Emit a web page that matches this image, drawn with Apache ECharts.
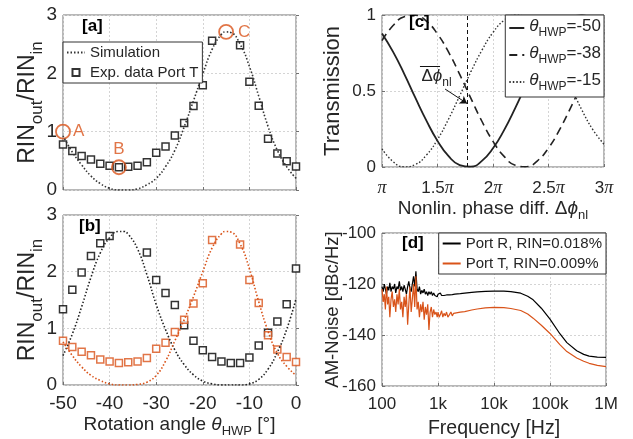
<!DOCTYPE html>
<html><head><meta charset="utf-8">
<script src="https://cdn.jsdelivr.net/npm/echarts@6/dist/echarts.min.js"></script>
<style>html,body{margin:0;padding:0;background:#fff}#c{width:633px;height:439px}</style>
</head><body><div id="c"></div>
<script>
// ---------- data ----------
const expAngles = [-50,-48,-46,-44,-42,-40,-38,-36,-34,-32,-30,-28,-26,-24,-22,-20,-18,-16,-14,-12,-10,-8,-6,-4,-2,0];
const portT = [0.78,0.67,0.585,0.525,0.45,0.415,0.39,0.40,0.415,0.475,0.64,0.745,0.935,1.15,1.44,1.795,2.56,null,null,2.48,1.855,1.445,0.88,0.625,0.495,0.405];
const portR = [1.335,1.68,1.985,2.275,2.5,2.63,null,null,null,2.34,1.855,1.625,1.41,1.055,0.78,0.615,0.495,0.415,0.39,0.39,0.485,0.695,0.92,1.12,1.425,2.055];

const simAnglesT = [-50,-48,-46,-44,-42,-40,-38,-36,-34,-32,-30,-28,-26,-24,-22,-20,-18,-16,-15,-14,-12,-10,-8,-6,-4,-2,0];
const simA = [0.93,0.65,0.43,0.24,0.11,0.03,0.0,0.0,0.02,0.09,0.2,0.4,0.68,1.08,1.53,1.99,2.41,2.67,2.71,2.70,2.5,2.12,1.61,1.09,0.68,0.4,0.2];
const simBT = [0.76,0.52,0.32,0.17,0.08,0.02,0.0,0.0,0.01,0.05,0.17,0.42,0.78,1.15,1.56,2.0,2.42,2.67,2.71,2.70,2.49,2.05,1.47,0.95,0.56,0.33,0.17];
const simAnglesR = [-50,-48,-46,-44,-42,-40,-38,-37,-36,-34,-32,-30,-28,-26,-24,-22,-20,-18,-16,-14,-12,-10,-8,-6,-4,-2,0];
const simBR = [0.52,0.9,1.38,1.9,2.33,2.6,2.71,2.71,2.66,2.4,1.95,1.42,0.98,0.62,0.36,0.18,0.07,0.02,0.0,0.0,0.0,0.02,0.1,0.28,0.58,0.98,1.52];

const markerNames = ['A','B','C'];
const markerAngles = [-50,-38,-15];
const markerValues = [1.0,0.39,2.71];

const phaseX = [1.0,1.1,1.2,1.3,1.4,1.5,1.6,1.7,1.8,1.9,2.0,2.1,2.2,2.3,2.4,2.5,2.6,2.7,2.8,2.9,3.0];
const trans50 = [0.878,0.757,0.613,0.456,0.305,0.172,0.071,0.013,0.002,0.040,0.123,0.243,0.388,0.544,0.695,0.828,0.929,0.987,0.998,0.960,0.878];
const trans38 = [0.831,0.931,0.988,0.998,0.959,0.875,0.755,0.609,0.453,0.301,0.169,0.070,0.012,0.002,0.041,0.125,0.246,0.391,0.547,0.698,0.831];
const trans15 = [0.12,0.035,0.001,0.016,0.078,0.181,0.316,0.469,0.625,0.768,0.885,0.965,0.999,0.984,0.922,0.819,0.684,0.532,0.376,0.245,0.15];
const hwpLabels = ['-50','-38','-15'];
const phiBar = 1.772;
const piTickValues = [1,1.5,2,2.5,3];
const piTickLabels = ['','1.5','2','2.5','3'];

const freqHz = [100,105,110,115,120,126,132,138,145,152,160,168,176,185,194,204,214,225,236,248,260,273,287,301,316,332,348,366,384,403,423,444,466,490,514,540,567,595,625,656,689,723,759,797,837,879,923,969,1000,1050,1100,1160,1220,1280,1350,1420,1500,1600,1700,1800,1900,2000,2500,3000,4000,5000,7000,10000,15000,20000,30000,40000,50000,70000,100000,150000,200000,300000,400000,500000,700000,1000000];
const noiseR = [-121,-123,-120,-122,-124, -121,-122.5,-119.5,-123,-121, -122,-120,-123.5,-121,-122, -119,-122.5,-121,-123,-120.5, -122,-124,-121,-119,-122, -123,-120,-117,-121,-115, -122,-123,-121,-124,-122.5, -123.5,-122,-124,-123,-124.5, -123,-124,-123,-124.5,-123.5, -124.5,-124,-125,-124, -124.5,-123.5,-124.5,-124,-124.5, -124,-124.3,-123.8,-124.3,-124, -124.2,-124,-124, -123.8,-123.6,-123.3,-123.1,-122.9, -122.8,-122.8,-123,-123.6,-124.8, -126.2,-129.5,-133.8,-139.5,-143, -146.2,-147.6,-148.3,-148.7,-148.8];
const noiseT = [-122,-127,-124,-130,-121, -128,-125,-133,-126,-123, -129,-126,-131,-124,-128, -122,-130,-127,-133,-125, -129,-124,-136,-128,-121, -131,-126,-120,-129,-117, -130,-127,-133,-128,-131, -127,-134,-129,-132,-128, -138,-131,-129,-133,-130, -132,-131,-133,-131, -133,-132,-130.5,-133,-131.5, -132.5,-131,-133,-132,-131, -132.5,-131.5,-131.8, -131,-130.8,-130.2,-129.8,-129.4, -129.2,-129.3,-129.6,-130.4,-131.8, -133.4,-136.2,-139.4,-143.8,-146.5, -149,-150.3,-151.1,-151.9,-152.4];
const freqTickValues = [100,1000,10000,100000,1000000];
const freqTickLabels = ['100','1k','10k','100k','1M'];

// ---------- style ----------
const ORANGE = '#D95319';
const TXT = '#262626';
const AXC = '#707070';
const FONT = 'Liberation Sans';

function rich(S, s) {
  return {
    m: {fontSize:S, lineHeight:S+3, verticalAlign:'top', color:TXT, fontFamily:FONT},
    g: {fontSize:S, lineHeight:S+3, verticalAlign:'top', color:TXT, fontFamily:FONT, fontStyle:'italic'},
    s: {fontSize:s, lineHeight:s+1, padding:[Math.round(S*0.55),0,0,0], verticalAlign:'top', color:TXT, fontFamily:FONT}
  };
}
const pairs = (xs, ys) => xs.map((x,i)=>[x, ys[i]]).filter(p => p[1] !== null);

function ax(o) {
  return Object.assign({
    axisLine:{show:false},
    axisTick:{show:true, inside:true, length:3, lineStyle:{color:AXC}},
    splitLine:{show:true, lineStyle:{color:'#d4d4d4', type:[2,2], width:1}},
    nameMoveOverlap:false,
    nameLocation:'middle'
  }, o);
}

const sqIcon = 'path://M0,0L10,0L10,10L0,10Z';
const sqStyle = c => ({color:'#fff', borderColor:c, borderWidth:1.5});
const noSym = {color:'rgba(0,0,0,0)', borderColor:'rgba(0,0,0,0)', borderWidth:0, opacity:0};
const lineItem = n => ({name:n, itemStyle:noSym});

const option = {
  backgroundColor:'#fff',
  animation:false,
  textStyle:{fontFamily:FONT, color:TXT},
  title:[
    {text:'[a]', left:82, top:18, padding:0, textStyle:{fontSize:17, fontWeight:'bold', color:'#000'}},
    {text:'[b]', left:79, top:218, padding:0, textStyle:{fontSize:17, fontWeight:'bold', color:'#000'}},
    {text:'[c]', left:409, top:14, padding:0, textStyle:{fontSize:17, fontWeight:'bold', color:'#000'}},
    {text:'[d]', left:402, top:235, padding:0, textStyle:{fontSize:17, fontWeight:'bold', color:'#000'}}
  ],
  grid:[
    {left:63, top:15, width:233, height:175, show:true, borderColor:AXC, borderWidth:1, backgroundColor:'#fff', outerBoundsMode:'none'},
    {left:63, top:215, width:233, height:170, show:true, borderColor:AXC, borderWidth:1, backgroundColor:'#fff', outerBoundsMode:'none'},
    {left:382, top:15, width:222, height:152, show:true, borderColor:AXC, borderWidth:1, backgroundColor:'#fff', outerBoundsMode:'none'},
    {left:382, top:233, width:224, height:153, show:true, borderColor:AXC, borderWidth:1, backgroundColor:'#fff', outerBoundsMode:'none'}
  ],
  legend:[
    {left:63, top:42, orient:'vertical', backgroundColor:'#fff', borderColor:'#333', borderWidth:1, borderRadius:0,
     padding:[2,4,2,3], itemGap:3, itemWidth:18, itemHeight:7, selectedMode:false,
     textStyle:{fontSize:15, lineHeight:17, color:TXT},
     data:[lineItem('Simulation'),{name:'Exp. data Port T', icon:sqIcon}]},
    {right:29, top:15, orient:'vertical', backgroundColor:'#fff', borderColor:'#333', borderWidth:1, borderRadius:0,
     padding:[3,3,4,3], itemGap:6, itemWidth:15, itemHeight:8, selectedMode:false,
     formatter: n => '{g|θ}{s|HWP}{m|=' + n.replace('θ','') + '}',
     textStyle:{rich:rich(17,12)},
     data: hwpLabels.map(h => lineItem('θ' + h))},
    {right:27, top:233, orient:'vertical', backgroundColor:'#fff', borderColor:'#333', borderWidth:1, borderRadius:0,
     padding:[2,4,2,3], itemGap:3, itemWidth:18, itemHeight:8, selectedMode:false,
     textStyle:{fontSize:15, lineHeight:17, color:TXT},
     data:[lineItem('Port R, RIN=0.018%'),lineItem('Port T, RIN=0.009%')]}
  ],
  xAxis:[
    ax({gridIndex:0, type:'value', min:-50, max:0, interval:10, axisLabel:{show:false}}),
    ax({gridIndex:1, type:'value', min:-50, max:0, interval:10,
        axisLabel:{fontSize:19, margin:9, color:TXT},
        name:'{m|Rotation angle }{g|θ}{s|HWP}{m| [°]}', nameGap:30, nameTextStyle:{rich:rich(19,13)}}),
    ax({gridIndex:2, type:'value', min:1, max:3, interval:0.5,
        axisLabel:{margin:12, color:TXT,
          formatter: v => { const i = piTickValues.indexOf(v); return '{n|' + piTickLabels[i] + '}{p|π}'; },
          rich:{n:{fontSize:17, color:TXT, fontFamily:FONT}, p:{fontSize:18, color:TXT, fontFamily:'Liberation Serif', fontStyle:'italic'}}},
        name:'{m|Nonlin. phase diff. Δ}{g|ϕ}{s|nl}', nameGap:32, nameTextStyle:{rich:rich(19,13)}}),
    ax({gridIndex:3, type:'log', logBase:10, min:100, max:1000000,
        axisLabel:{fontSize:17, margin:10, color:TXT, formatter: v => freqTickLabels[freqTickValues.indexOf(v)] || ''},
        minorTick:{show:false},
        name:'Frequency [Hz]', nameGap:33, nameTextStyle:{fontSize:19.5, color:TXT}})
  ],
  yAxis:[
    ax({gridIndex:0, type:'value', min:0, max:3, interval:1, axisLabel:{fontSize:19, margin:6, color:TXT},
        name:'{m|RIN}{s|out}{m|/RIN}{s|in}', nameRotate:90, nameGap:21, nameTextStyle:{rich:rich(23,17)}}),
    ax({gridIndex:1, type:'value', min:0, max:3, interval:1, axisLabel:{fontSize:19, margin:6, color:TXT},
        name:'{m|RIN}{s|out}{m|/RIN}{s|in}', nameRotate:90, nameGap:21, nameTextStyle:{rich:rich(23,17)}}),
    ax({gridIndex:2, type:'value', min:0, max:1, interval:0.5, axisLabel:{fontSize:17, margin:6, color:TXT},
        name:'Transmission', nameRotate:90, nameGap:38, nameTextStyle:{fontSize:22, color:TXT}}),
    ax({gridIndex:3, type:'value', min:-160, max:-100, interval:20, axisLabel:{fontSize:17, margin:6, color:TXT},
        name:'AM-Noise [dBc/Hz]', nameRotate:90, nameGap:40, nameTextStyle:{fontSize:18.5, color:TXT}})
  ],
  series:[
    // panel a
    {name:'Simulation', type:'line', xAxisIndex:0, yAxisIndex:0, data:pairs(simAnglesT, simA), smooth:true,
     symbol:'none', lineStyle:{color:'#333', width:1.6, type:[1.5,2]}, itemStyle:{color:'#333'}},
    {name:'Exp. data Port T', type:'scatter', xAxisIndex:0, yAxisIndex:0, data:pairs(expAngles, portT),
     symbol:'rect', symbolSize:7, itemStyle:sqStyle('#000')},
    {name:'markers', type:'scatter', xAxisIndex:0, yAxisIndex:0,
     data: markerNames.map((n,i)=>({name:n, value:[markerAngles[i], markerValues[i]],
       label:{position: n==='B' ? 'top' : 'right', distance: n==='C' ? 4 : 2}})),
     symbol:'circle', symbolSize:14, itemStyle:{color:'rgba(0,0,0,0)', borderColor:ORANGE, borderWidth:1.8},
     label:{show:true, formatter:'{b}', fontSize:17, color:ORANGE}},
    // panel b
    {name:'simR', type:'line', xAxisIndex:1, yAxisIndex:1, data:pairs(simAnglesR, simBR), smooth:true,
     symbol:'none', lineStyle:{color:'#222', width:1.6, type:[1.5,2]}},
    {name:'simT', type:'line', xAxisIndex:1, yAxisIndex:1, data:pairs(simAnglesT, simBT), smooth:true,
     symbol:'none', lineStyle:{color:ORANGE, width:1.6, type:[1.5,2]}},
    {name:'expR', type:'scatter', xAxisIndex:1, yAxisIndex:1, data:pairs(expAngles, portR),
     symbol:'rect', symbolSize:7, itemStyle:sqStyle('#000')},
    {name:'expT', type:'scatter', xAxisIndex:1, yAxisIndex:1, data:pairs(expAngles, portT),
     symbol:'rect', symbolSize:7, itemStyle:sqStyle(ORANGE)},
    // panel c
    {name:'θ-50', type:'line', xAxisIndex:2, yAxisIndex:2, data:pairs(phaseX, trans50), smooth:true,
     symbol:'none', lineStyle:{color:'#222', width:1.8, type:'solid'}, itemStyle:{color:'#222'},
     markLine:{silent:true, symbol:['none','none'], label:{show:false}, animation:false,
       lineStyle:{color:'#111', width:1, type:'solid'},
       data:[
         {xAxis:phiBar, lineStyle:{type:[4,3], color:'#111', width:1}},
         [{coord:[1.568,0.513]},{coord:[1.766,0.418], symbol:'arrow', symbolSize:7}],
         [{coord:[1.342,0.664]},{coord:[1.523,0.664]}]
       ]},
     markPoint:{silent:true, symbol:'circle', symbolSize:1, itemStyle:{color:'rgba(0,0,0,0)'},
       data:[{coord:[1.491,0.586], label:{show:true, position:'inside', formatter:'{m|Δ}{g|ϕ}{s|nl}', rich:rich(17,12)}}]}},
    {name:'θ-38', type:'line', xAxisIndex:2, yAxisIndex:2, data:pairs(phaseX, trans38), smooth:true,
     symbol:'none', lineStyle:{color:'#222', width:1.6, type:[8,5]}, itemStyle:{color:'#222'}},
    {name:'θ-15', type:'line', xAxisIndex:2, yAxisIndex:2, data:pairs(phaseX, trans15), smooth:true,
     symbol:'none', lineStyle:{color:'#333', width:1.4, type:[1.5,2]}, itemStyle:{color:'#333'}},
    // panel d
    {name:'Port R, RIN=0.018%', type:'line', xAxisIndex:3, yAxisIndex:3, data:pairs(freqHz, noiseR),
     symbol:'none', lineStyle:{color:'#000', width:1.2}, itemStyle:{color:'#000'}},
    {name:'Port T, RIN=0.009%', type:'line', xAxisIndex:3, yAxisIndex:3, data:pairs(freqHz, noiseT),
     symbol:'none', lineStyle:{color:ORANGE, width:1.2}, itemStyle:{color:ORANGE}}
  ]
};

const chart = echarts.init(document.getElementById('c'), null, {renderer:'canvas'});
chart.setOption(option);
</script>
</body></html>
